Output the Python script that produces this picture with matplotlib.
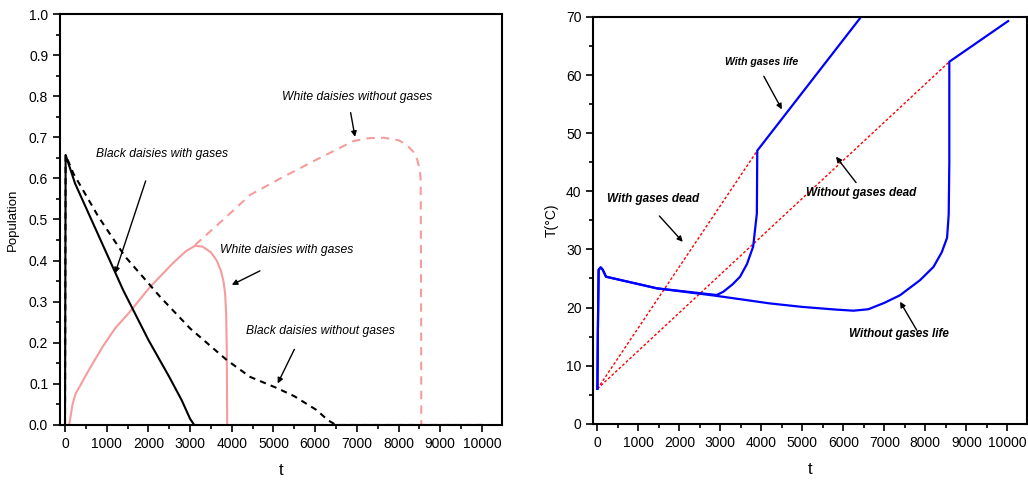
import matplotlib.pyplot as plt
from matplotlib.ticker import MultipleLocator

plt.rcParams['font.family'] = ['Liberation Sans', 'DejaVu Sans']

# ---- left panel: populations ----
t_black_gas = [0, 15, 240, 960, 1400, 2000, 2500, 2800, 3000, 3100, 3150]
p_black_gas = [0, 0.657, 0.588, 0.426, 0.327, 0.207, 0.117, 0.06, 0.015, 0.0, 0.0]

t_black_nogas = [0, 15, 200, 800, 1440, 2000, 2280, 3000, 3880, 4440, 5080, 5500, 6040, 6300, 6500, 10000]
p_black_nogas = [0, 0.657, 0.612, 0.507, 0.41, 0.345, 0.312, 0.235, 0.158, 0.117, 0.09, 0.07, 0.036, 0.012, 0.0, 0.0]

t_white_gas = [0, 100, 140, 180, 250, 360, 550, 900, 1200, 1560, 2040, 2600, 2900, 3120, 3300, 3500,
               3640, 3740, 3800, 3840, 3865, 3880, 3890, 10000]
p_white_gas = [0, 0.0, 0.025, 0.05, 0.075, 0.095, 0.13, 0.19, 0.235, 0.276, 0.336, 0.395, 0.423, 0.436,
               0.434, 0.42, 0.40, 0.375, 0.35, 0.32, 0.27, 0.18, 0.0, 0.0]

t_white_nogas = [3120, 3800, 4440, 5240, 6040, 6920, 7300, 7640, 8000, 8200, 8350, 8450, 8510, 8530, 8540, 8545, 10000]
p_white_nogas = [0.438, 0.5, 0.56, 0.604, 0.646, 0.691, 0.698, 0.699, 0.693, 0.681, 0.665, 0.645, 0.62, 0.596, 0.3, 0.0, 0.0]

# ---- right panel: temperature ----
t_life_gas = [0, 10, 30, 80, 130, 210, 1450, 2910, 3070, 3300, 3480, 3650, 3800, 3890, 3900, 6430]
T_life_gas = [6, 15, 26.5, 26.9, 26.5, 25.3, 23.3, 22.15, 22.7, 24, 25.3, 27.5, 30.5, 36.2, 47, 70]

t_life_nogas = [0, 10, 30, 80, 130, 210, 1450, 2910, 4210, 5000, 5800, 6245, 6610, 7000, 7380,
                7870, 8200, 8400, 8530, 8570, 8585, 8585, 10020]
T_life_nogas = [6, 15, 26.5, 26.9, 26.5, 25.3, 23.3, 22.0, 20.7, 20.1, 19.65, 19.45, 19.7, 20.8, 22.1,
                24.7, 27, 29.5, 32, 36, 45, 62.3, 69.3]

t_dead_gas = [0, 3900]
T_dead_gas = [6, 47]
t_dead_nogas = [0, 8585]
T_dead_nogas = [6, 62.3]

pink = '#f59c9c'

fig = plt.figure(figsize=(10.28, 4.82), dpi=100)
ax1 = fig.add_axes([60/1028, 1-425/482, (502-60)/1028, (425-14)/482])
ax2 = fig.add_axes([593.3/1028, 1-423.7/482, (1027-593.3)/1028, (423.7-17)/482])

ax1.plot(t_white_gas, p_white_gas, color=pink, lw=1.5)
ax1.plot(t_white_nogas, p_white_nogas, color=pink, lw=1.5, ls=(0, (4, 3)))
ax1.plot(t_black_nogas, p_black_nogas, color='black', lw=1.5, ls=(0, (3, 2.5)))
ax1.plot(t_black_gas, p_black_gas, color='black', lw=1.5)

ax1.set_xlim(-120, 10480)
ax1.set_ylim(0, 1.0)
ax1.xaxis.set_major_locator(MultipleLocator(1000))
ax1.xaxis.set_minor_locator(MultipleLocator(500))
ax1.yaxis.set_major_locator(MultipleLocator(0.1))
ax1.yaxis.set_minor_locator(MultipleLocator(0.05))
ax1.yaxis.set_major_formatter(plt.FormatStrFormatter('%.1f'))
ax1.set_xlabel('t', fontsize=12, labelpad=9)
ax1.set_ylabel('Population', fontsize=9.5, labelpad=7)

ann_kw = dict(fontsize=8.7, style='italic', ha='center', va='center')
arr = dict(arrowstyle='-|>', color='black', lw=1, mutation_scale=8, shrinkA=0, shrinkB=0)
ax1.annotate('', xy=(1200, 0.369), xytext=(1935, 0.594), arrowprops=arr)
ax1.text(2330, 0.659, 'Black daisies with gases', **ann_kw)
ax1.annotate('', xy=(6955, 0.701), xytext=(6850, 0.76), arrowprops=arr)
ax1.text(7010, 0.799, 'White daisies without gases', **ann_kw)
ax1.annotate('', xy=(4000, 0.341), xytext=(4675, 0.375), arrowprops=arr)
ax1.text(5320, 0.426, 'White daisies with gases', **ann_kw)
ax1.annotate('', xy=(5100, 0.101), xytext=(5500, 0.184), arrowprops=arr)
ax1.text(6130, 0.229, 'Black daisies without gases', **ann_kw)

ax2.plot(t_dead_gas, T_dead_gas, color='red', lw=1, ls=(0, (2, 1.5)))
ax2.plot(t_dead_nogas, T_dead_nogas, color='red', lw=1, ls=(0, (2, 1.5)))
ax2.plot(t_life_nogas, T_life_nogas, color='#0000ff', lw=1.6)
ax2.plot(t_life_gas, T_life_gas, color='#0000ff', lw=1.6)

ax2.set_xlim(-100, 10480)
ax2.set_ylim(0, 70)
ax2.xaxis.set_major_locator(MultipleLocator(1000))
ax2.xaxis.set_minor_locator(MultipleLocator(500))
ax2.yaxis.set_major_locator(MultipleLocator(10))
ax2.yaxis.set_minor_locator(MultipleLocator(5))
ax2.set_xlabel('t', fontsize=12, labelpad=9)
ax2.set_ylabel('T(°C)', fontsize=10, labelpad=5)

bkw = dict(fontsize=8.5, style='italic', weight='bold', ha='center', va='center')
ax2.annotate('', xy=(4500, 54.1), xytext=(4060, 59.8), arrowprops=arr)
ax2.text(4010, 62.3, 'With gases life', fontsize=7.6, style='italic', weight='bold',
         ha='center', va='center')
ax2.annotate('', xy=(2083, 31.3), xytext=(1512, 35.75), arrowprops=arr)
ax2.text(1346, 38.6, 'With gases dead', **bkw)
ax2.annotate('', xy=(5822, 45.96), xytext=(6310, 41.5), arrowprops=arr)
ax2.text(6444, 39.7, 'Without gases dead', **bkw)
ax2.annotate('', xy=(7383, 21.0), xytext=(7790, 16.1), arrowprops=arr)
ax2.text(7356, 15.4, 'Without gases life', **bkw)

for ax in (ax1, ax2):
    for s in ax.spines.values():
        s.set_linewidth(1.5)
    ax.tick_params(which='major', direction='out', length=5, width=1.2, labelsize=10)
    ax.tick_params(which='minor', direction='out', length=3, width=1.2)

fig.savefig('out.png', dpi=100)
